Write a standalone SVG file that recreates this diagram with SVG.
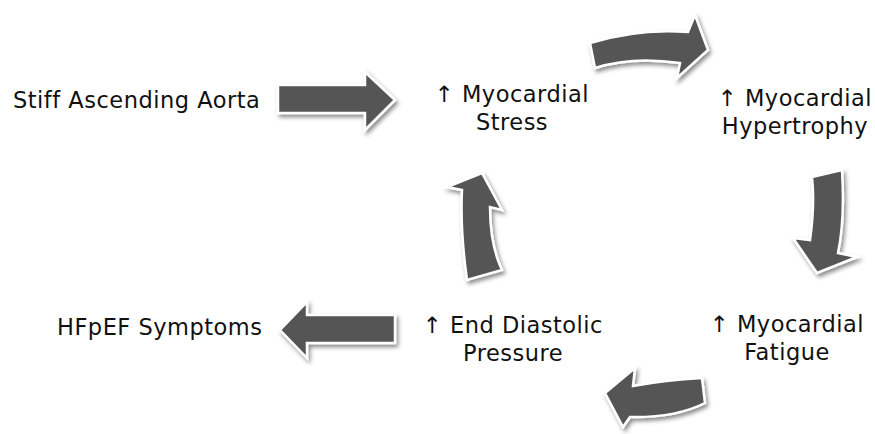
<svg xmlns="http://www.w3.org/2000/svg" width="875" height="434" viewBox="0 0 875 434">
<defs>
<filter id="sh" x="-30%" y="-30%" width="160%" height="160%">
<feDropShadow dx="2" dy="3" stdDeviation="2" flood-color="#000" flood-opacity="0.45"/>
</filter>
<style>
.ar{fill:#555555;stroke:#ffffff;stroke-width:2.5;stroke-linejoin:miter;filter:url(#sh)}
.t{font-family:"DejaVu Sans","Noto Sans",sans-serif;font-size:22.5px;letter-spacing:0.5px;fill:#111111}
.m{text-anchor:middle}
</style>
</defs>
<rect width="875" height="434" fill="#ffffff"/>
<g id="connectors">
<path class="ar" d="M278,85 H365 V72 L395,100 L365,130 V113 H278 Z"/>
<path class="ar" d="M590,43 Q639,28 688,32 L695,15 L708,50 L677,78 L680,63 Q632,56 595,68 Z"/>
<path class="ar" d="M812,177 L842,170 Q845,220 838,253 L857,257 L817,273 L793,238 L810,240 Q815,205 812,177 Z"/>
<path class="ar" d="M702,378 Q665,380 633,386 L635,368 L605,393 L623,427 L630,417 Q675,418 705,403 Z"/>
<path class="ar" d="M462,190 L447,187 L482,173 L502,210 L490,207 Q490,245 502,270 L467,280 Q460,230 462,190 Z"/>
<path class="ar" d="M280,330 L307,302 V315 H395 V343 H307 V358 Z"/>
</g>
<g id="stiff"><text class="t" x="13" y="108">Stiff Ascending Aorta</text></g>
<g id="stress"><text class="t m" x="512" y="102">↑ Myocardial</text><text class="t m" x="512" y="130">Stress</text></g>
<g id="hypertrophy"><text class="t m" x="795" y="106">↑ Myocardial</text><text class="t m" x="795" y="134">Hypertrophy</text></g>
<g id="fatigue"><text class="t m" x="787" y="332">↑ Myocardial</text><text class="t m" x="787" y="360">Fatigue</text></g>
<g id="pressure"><text class="t m" x="513" y="333">↑ End Diastolic</text><text class="t m" x="513" y="361">Pressure</text></g>
<g id="hfpef"><text class="t" x="57" y="335">HFpEF Symptoms</text></g>
</svg>
